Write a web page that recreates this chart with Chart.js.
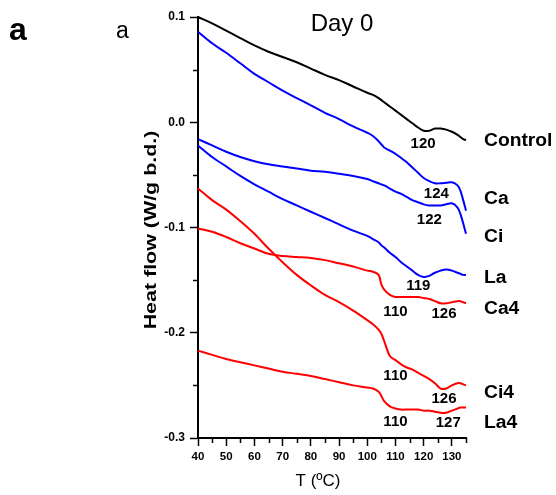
<!DOCTYPE html>
<html>
<head>
<meta charset="utf-8">
<script src="https://cdn.jsdelivr.net/npm/chart.js@4"></script>
<style>
  html, body { margin: 0; padding: 0; background: #fff; }
  #wrap { position: relative; width: 556px; height: 495px; }
</style>
</head>
<body>
<div id="wrap"><canvas id="dscChart"></canvas></div>
<script>
// temperature grid (°C)
const temps = [40, 45, 50, 55, 60, 65, 70, 75, 80, 85, 90, 95, 100, 102, 104, 105, 106, 108, 110,
  112, 114, 116, 118, 120, 122, 124, 126, 128, 130, 132, 133, 134, 135];

// heat flow (W/g b.d.) per sample
const control = [0.100, 0.094, 0.087, 0.080, 0.073, 0.067, 0.062, 0.057, 0.051, 0.045, 0.040, 0.034, 0.028,
  0.026, 0.023, 0.021, 0.019, 0.015, 0.011, 0.007, 0.003, -0.001, -0.005, -0.008, -0.008, -0.006,
  -0.006, -0.007, -0.009, -0.012, -0.014, -0.016, -0.017];
const ca = [0.086, 0.075, 0.066, 0.056, 0.046, 0.038, 0.030, 0.023, 0.016, 0.009, 0.003, -0.004, -0.010,
  -0.013, -0.018, -0.021, -0.024, -0.027, -0.030, -0.034, -0.038, -0.043, -0.048, -0.053, -0.056, -0.058,
  -0.058, -0.0575, -0.057, -0.060, -0.065, -0.074, -0.084];
const ci = [-0.016, -0.022, -0.028, -0.033, -0.037, -0.040, -0.042, -0.044, -0.046, -0.047, -0.049, -0.051,
  -0.054, -0.056, -0.058, -0.059, -0.060, -0.063, -0.066, -0.068, -0.071, -0.074, -0.076, -0.078, -0.079,
  -0.079, -0.079, -0.078, -0.077, -0.081, -0.087, -0.096, -0.106];
const la = [-0.022, -0.033, -0.042, -0.051, -0.059, -0.066, -0.073, -0.079, -0.085, -0.091, -0.097, -0.103,
  -0.108, -0.111, -0.114, -0.117, -0.119, -0.124, -0.128, -0.133, -0.137, -0.141, -0.145, -0.147, -0.146,
  -0.143, -0.141, -0.140, -0.141, -0.143, -0.144, -0.145, -0.145];
const ca4 = [-0.101, -0.104, -0.109, -0.115, -0.120, -0.125, -0.127, -0.128, -0.129, -0.131, -0.134, -0.137,
  -0.141, -0.142, -0.145, -0.154, -0.159, -0.164, -0.166, -0.166, -0.166, -0.166, -0.166, -0.167, -0.168,
  -0.170, -0.172, -0.172, -0.171, -0.170, -0.170, -0.171, -0.172];
const ci4 = [-0.063, -0.074, -0.083, -0.094, -0.106, -0.120, -0.133, -0.145, -0.155, -0.164, -0.171, -0.179,
  -0.188, -0.192, -0.197, -0.201, -0.208, -0.222, -0.226, -0.230, -0.233, -0.235, -0.238, -0.241, -0.244,
  -0.248, -0.253, -0.253, -0.250, -0.248, -0.248, -0.249, -0.250];
const la4 = [-0.217, -0.221, -0.225, -0.228, -0.231, -0.234, -0.237, -0.239, -0.241, -0.244, -0.247, -0.250,
  -0.252, -0.253, -0.256, -0.260, -0.265, -0.270, -0.272, -0.273, -0.273, -0.273, -0.273, -0.274, -0.274,
  -0.275, -0.276, -0.276, -0.274, -0.272, -0.271, -0.271, -0.271];

const seriesNames = ["Control", "Ca", "Ci", "La", "Ca4", "Ci4", "La4"];
const seriesValues = [control, ca, ci, la, ca4, ci4, la4];
const seriesColors = ["#000000", "#0000ff", "#0000ff", "#0000ff", "#ff0000", "#ff0000", "#ff0000"];
// where each name sits on the y scale, right of the plot
const nameLevels = [-0.018, -0.073, -0.109, -0.148, -0.177, -0.257, -0.286];

// axis tick values
const xTicks = [40, 50, 60, 70, 80, 90, 100, 110, 120, 130];
const yTicks = [-0.3, -0.2, -0.1, 0.0, 0.1];

// peak temperature labels (text, T, heat flow)
const peakText = ["120", "124", "122", "119", "110", "126", "110", "126", "110", "127"];
const peakT = [119.8, 124.5, 122.0, 118.1, 110.0, 127.2, 110.0, 127.2, 110.0, 128.7];
const peakV = [-0.021, -0.0685, -0.093, -0.1556, -0.180, -0.1825, -0.241, -0.2632, -0.2848, -0.2854];

const datasets = seriesNames.map((name, s) => ({
  label: name,
  data: temps.map((t, i) => ({ x: t, y: seriesValues[s][i] })),
  borderColor: seriesColors[s],
  borderWidth: 2,
  pointRadius: 0,
  showLine: true,
  tension: 0.35,
  clip: 4
}));

const FONT = "'Liberation Sans', Arial, sans-serif";

// minor ticks, texts, labels
const decor = {
  id: "decor",
  afterDraw(chart) {
    const { ctx, chartArea: a, scales: { x, y } } = chart;
    ctx.save();
    ctx.strokeStyle = "#000";
    ctx.lineWidth = 1.5;
    ctx.beginPath();
    for (let v = -0.25; v < 0.1; v += 0.1) {
      const py = Math.round(y.getPixelForValue(v)) + 0.5;
      ctx.moveTo(a.left - 5, py); ctx.lineTo(a.left, py);
    }
    for (let t = 45; t <= 135; t += 10) {
      const px = Math.round(x.getPixelForValue(t)) + 0.5;
      ctx.moveTo(px, a.bottom); ctx.lineTo(px, a.bottom + 5);
    }
    ctx.stroke();

    ctx.fillStyle = "#000";
    ctx.textBaseline = "middle";

    // series names
    ctx.textAlign = "left";
    ctx.font = "bold 18px " + FONT;
    seriesNames.forEach((n, i) => {
      const py = y.getPixelForValue(nameLevels[i]);
      ctx.save();
      ctx.translate(a.right + 18, py);
      ctx.scale(1.07, 1);
      ctx.fillText(n, 0, 0);
      ctx.restore();
    });

    // peak temperatures
    ctx.textAlign = "center";
    ctx.font = "bold 15px " + FONT;
    peakText.forEach((txt, i) => {
      ctx.fillText(txt, x.getPixelForValue(peakT[i]), y.getPixelForValue(peakV[i]));
    });

    // title and panel letters
    ctx.font = "24px " + FONT;
    ctx.fillText("Day 0", 342, 24);
    ctx.textAlign = "left";
    ctx.font = "bold 32px " + FONT;
    ctx.fillText("a", 9, 31);
    ctx.font = "23px " + FONT;
    ctx.fillText("a", 116, 32);

    // axis titles
    ctx.textAlign = "center";
    ctx.font = "17px " + FONT;
    ctx.fillText("T (ºC)", 318, 481);
    ctx.translate(151, 230);
    ctx.rotate(-Math.PI / 2);
    ctx.scale(1.26, 1);
    ctx.font = "bold 17px " + FONT;
    ctx.fillText("Heat flow (W/g b.d.)", 0, 0);
    ctx.restore();
  }
};

const ctx = document.getElementById("dscChart").getContext("2d");

new Chart(ctx, {
  type: "scatter",
  data: { datasets },
  options: {
    responsive: true,
    maintainAspectRatio: false,
    animation: false,
    layout: { padding: { top: 17, right: 90, left: 0, bottom: 0 } },
    plugins: { legend: { display: false }, tooltip: { enabled: false } },
    scales: {
      x: {
        type: "linear",
        min: 40,
        max: 135,
        afterFit: (s) => { s.height = 57; },
        afterBuildTicks: (s) => { s.ticks = xTicks.map((v) => ({ value: v })); },
        border: { display: true, color: "#000", width: 2 },
        grid: { display: true, drawOnChartArea: false, drawTicks: true, tickLength: 8, color: "#000", tickWidth: 1.5 },
        ticks: {
          color: "#000",
          padding: 4,
          maxRotation: 0,
          autoSkip: false,
          font: { family: FONT, size: 11.5, weight: "bold" },
          callback: (v) => String(v)
        }
      },
      y: {
        min: -0.3,
        max: 0.1,
        afterFit: (s) => { s.width = 198; },
        afterBuildTicks: (s) => { s.ticks = yTicks.map((v) => ({ value: v })); },
        border: { display: true, color: "#000", width: 2 },
        grid: { display: true, drawOnChartArea: false, drawTicks: true, tickLength: 8, color: "#000", tickWidth: 1.5 },
        ticks: {
          color: "#000",
          padding: 5,
          autoSkip: false,
          font: { family: FONT, size: 12, weight: "bold" },
          callback: (v) => {
            const r = Math.round(v * 10) / 10;
            return r === 0 ? "0.0" : r.toFixed(1);
          }
        }
      }
    }
  },
  plugins: [decor]
});
</script>
</body>
</html>
